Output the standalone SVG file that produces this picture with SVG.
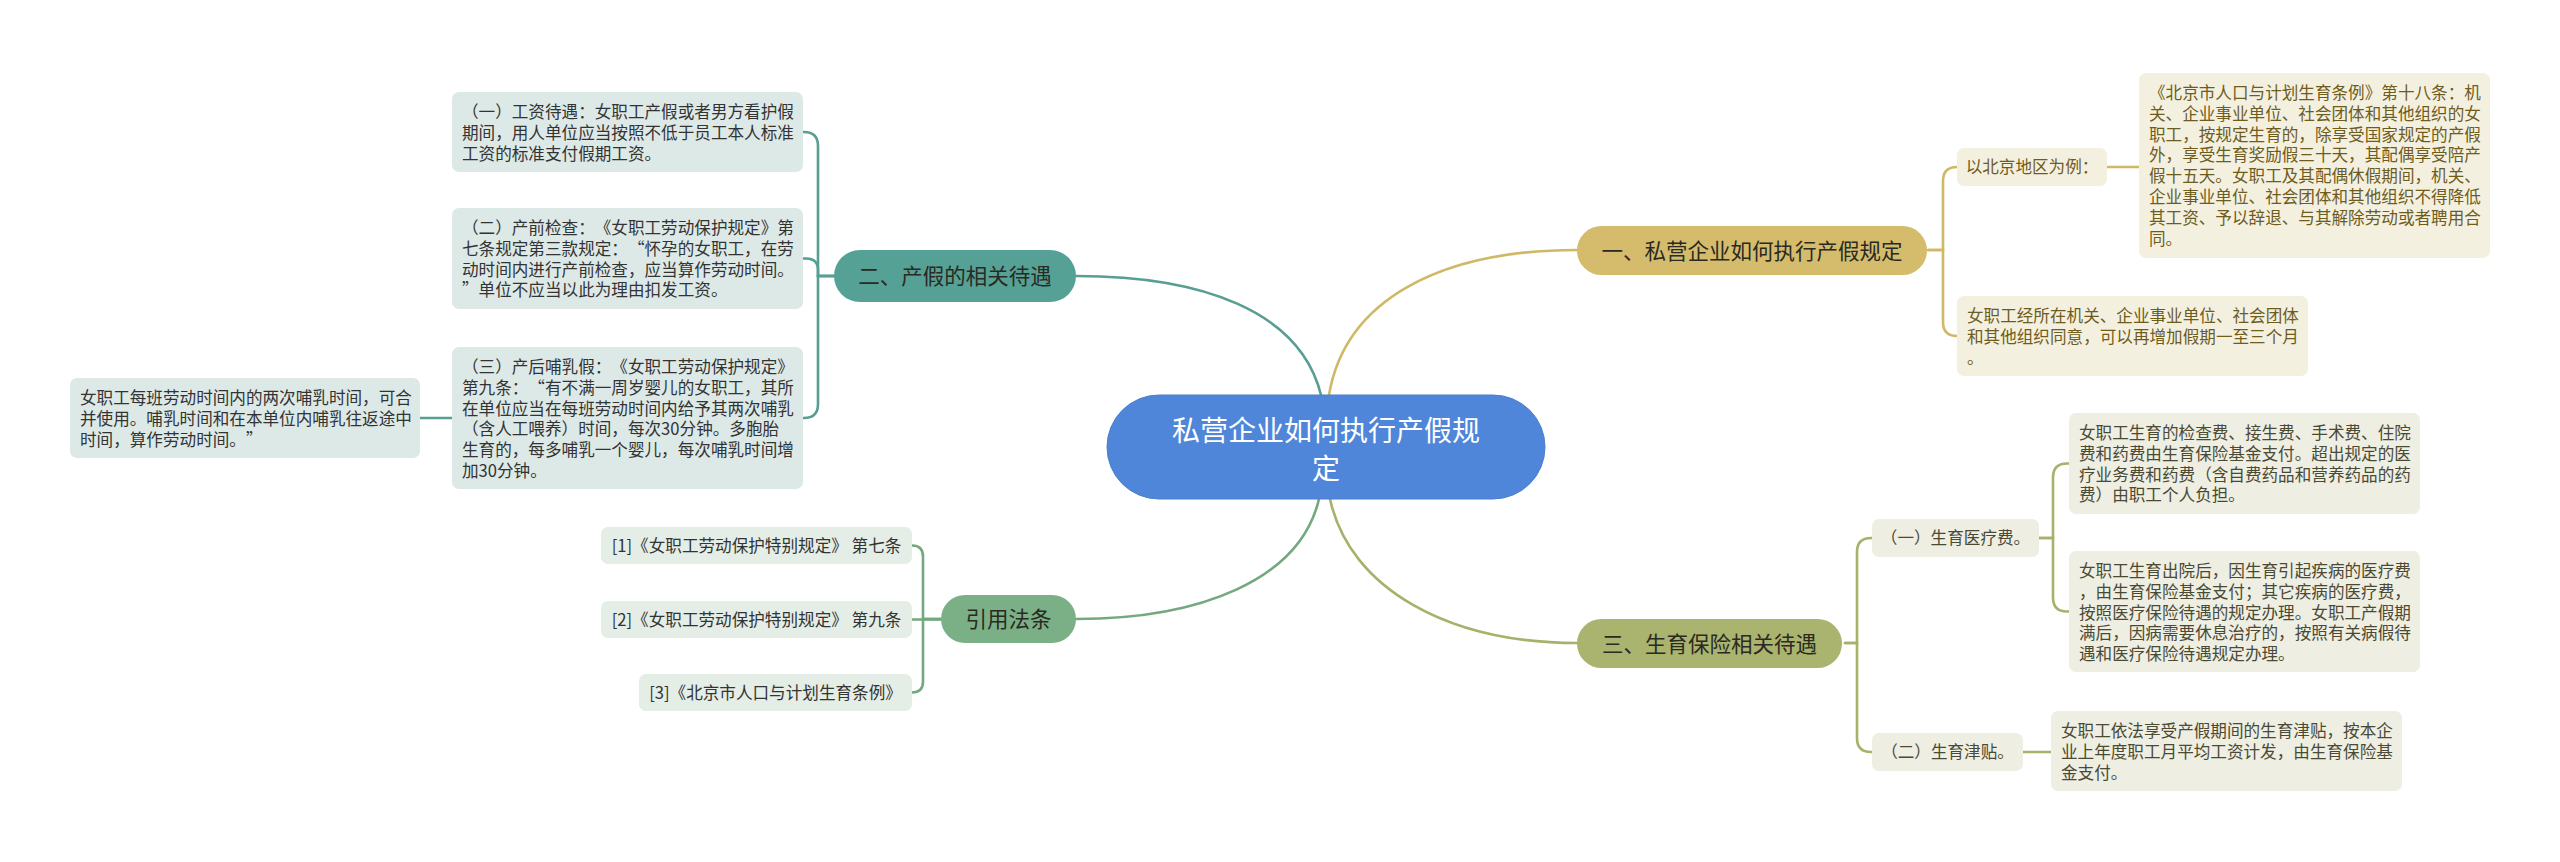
<svg xmlns="http://www.w3.org/2000/svg" width="2560" height="862" viewBox="0 0 2560 862">
<style>
text{font-family:"Noto Sans CJK SC","Noto Sans",sans-serif;text-spacing-trim:space-all;font-kerning:none;}
.leaf{font-size:16.6px;}
.br{font-size:21.5px;fill:#2a2a22;}
.c{fill:none;stroke-width:2.6;stroke-linecap:round;}
.teal{stroke:#589e93;}
.gold{stroke:#d0b866;}
.oliv{stroke:#a8b06a;}
.grn{stroke:#74a97f;}
.lt{fill:#dde9e7;}
.lg{fill:#e4ede6;}
.ly{fill:#f4f0e0;}
.lo{fill:#eeeee3;}
.tt{fill:#333333;}
.ty{fill:#6e5c1c;}
.to{fill:#4a4a34;}
</style>
<rect width="2560" height="862" fill="#ffffff"/>
<g id="connectors">
<path class="c gold" d="M1329,395 C1345,300 1440,250 1577,250" stroke-width="3"/>
<path class="c teal" d="M1321,395 C1300,310 1200,276 1076,276" stroke-width="3"/>
<path class="c grn" d="M1319,499 C1300,580 1200,619 1076,619" stroke-width="3"/>
<path class="c oliv" d="M1330,499 C1350,590 1450,643 1577,643" stroke-width="3"/>
<path class="c teal" d="M834,276 H818 V146 Q818,132 804,132 H803"/>
<path class="c teal" d="M834,276 H818 V270 Q818,258.5 806,258.5 H803"/>
<path class="c teal" d="M834,276 H818 V404 Q818,418 804,418 H803"/>
<path class="c teal" d="M452,418 H420"/>
<path class="c gold" d="M1928,250 H1943 V181 Q1943,167 1957,167"/>
<path class="c gold" d="M1928,250 H1943 V322 Q1943,336 1957,336"/>
<path class="c gold" d="M2107,167 H2139"/>
<path class="c oliv" d="M1845,643 H1857 V552 Q1857,538 1871,538 H1872"/>
<path class="c oliv" d="M1845,643 H1857 V738 Q1857,752 1871,752 H1872"/>
<path class="c oliv" d="M2039,538 H2053 V477.5 Q2053,463.5 2067,463.5 H2069"/>
<path class="c oliv" d="M2039,538 H2053 V597.5 Q2053,611.5 2067,611.5 H2069"/>
<path class="c oliv" d="M2023,752 H2051"/>
<path class="c grn" d="M941,619 H923 V556.5 Q923,545.5 912,545.5"/>
<path class="c grn" d="M941,619.5 H912"/>
<path class="c grn" d="M941,619 H923 V681.5 Q923,692.5 912,692.5"/>
</g>
<g id="root">
<rect x="1107" y="395" width="438" height="104" rx="52" fill="#4f86d9" stroke="#4a7fcc" stroke-width="1"/>
<text x="1326" y="441" font-size="28" fill="#ffffff" text-anchor="middle">私营企业如何执行产假规</text>
<text x="1326" y="479" font-size="28" fill="#ffffff" text-anchor="middle">定</text>
</g>
<g id="b1">
<rect x="1577" y="226" width="350" height="49" rx="24.5" fill="#d5bc6c"/>
<text class="br" x="1752" y="258.5" text-anchor="middle" fill="#3a3416">一、私营企业如何执行产假规定</text>
</g>
<g id="b2">
<rect x="834" y="250" width="242" height="52" rx="26" fill="#56a196"/>
<text class="br" x="955" y="284" text-anchor="middle">二、产假的相关待遇</text>
</g>
<g id="b3">
<rect x="1577" y="619" width="265" height="49" rx="24.5" fill="#aab46e"/>
<text class="br" x="1709.5" y="651.5" text-anchor="middle">三、生育保险相关待遇</text>
</g>
<g id="b4">
<rect x="941" y="595" width="135" height="48" rx="24" fill="#7bb087"/>
<text class="br" x="1008.5" y="627" text-anchor="middle">引用法条</text>
</g>
<g id="n-gongzi">
<rect class="lt" x="452" y="92" width="351" height="80" rx="7"/>
<text class="leaf tt" x="462" y="118"><tspan x="462">（一）工资待遇：女职工产假或者男方看护假</tspan><tspan x="462" dy="20.8">期间，用人单位应当按照不低于员工本人标准</tspan><tspan x="462" dy="20.8">工资的标准支付假期工资。</tspan></text>
</g>
<g id="n-chanqian">
<rect class="lt" x="452" y="208" width="351" height="101" rx="7"/>
<text class="leaf tt" x="462" y="234"><tspan x="462">（二）产前检查：《女职工劳动保护规定》第</tspan><tspan x="462" dy="20.8">七条规定第三款规定：“怀孕的女职工，在劳</tspan><tspan x="462" dy="20.8">动时间内进行产前检查，应当算作劳动时间。</tspan><tspan x="462" dy="20.8">”单位不应当以此为理由扣发工资。</tspan></text>
</g>
<g id="n-chanhou">
<rect class="lt" x="452" y="347" width="351" height="142" rx="7"/>
<text class="leaf tt" x="462" y="373"><tspan x="462">（三）产后哺乳假：《女职工劳动保护规定》</tspan><tspan x="462" dy="20.8">第九条：“有不满一周岁婴儿的女职工，其所</tspan><tspan x="462" dy="20.8">在单位应当在每班劳动时间内给予其两次哺乳</tspan><tspan x="462" dy="20.8">（含人工喂养）时间，每次30分钟。多胞胎</tspan><tspan x="462" dy="20.8">生育的，每多哺乳一个婴儿，每次哺乳时间增</tspan><tspan x="462" dy="20.8">加30分钟。</tspan></text>
</g>
<g id="n-buru">
<rect class="lt" x="70" y="378" width="350" height="80" rx="7"/>
<text class="leaf tt" x="80" y="404"><tspan x="80">女职工每班劳动时间内的两次哺乳时间，可合</tspan><tspan x="80" dy="20.8">并使用。哺乳时间和在本单位内哺乳往返途中</tspan><tspan x="80" dy="20.8">时间，算作劳动时间。”</tspan></text>
</g>
<g id="n-ref1">
<rect class="lg" x="601" y="527" width="311" height="37" rx="7"/>
<text class="leaf tt" x="756.5" y="551.5" text-anchor="middle">[1]《女职工劳动保护特别规定》 第七条</text>
</g>
<g id="n-ref2">
<rect class="lg" x="601" y="601" width="311" height="37" rx="7"/>
<text class="leaf tt" x="756.5" y="625.5" text-anchor="middle">[2]《女职工劳动保护特别规定》 第九条</text>
</g>
<g id="n-ref3">
<rect class="lg" x="639" y="674" width="273" height="37" rx="7"/>
<text class="leaf tt" x="775.5" y="698.5" text-anchor="middle">[3]《北京市人口与计划生育条例》</text>
</g>
<g id="n-beijing">
<rect class="ly" x="1957" y="148" width="150" height="38" rx="7"/>
<text class="leaf ty" x="2032" y="173" text-anchor="middle">以北京地区为例：</text>
</g>
<g id="n-tiaoli">
<rect class="ly" x="2139" y="73" width="351" height="185" rx="7"/>
<text class="leaf ty" x="2149" y="99"><tspan x="2149">《北京市人口与计划生育条例》第十八条：机</tspan><tspan x="2149" dy="20.8">关、企业事业单位、社会团体和其他组织的女</tspan><tspan x="2149" dy="20.8">职工，按规定生育的，除享受国家规定的产假</tspan><tspan x="2149" dy="20.8">外，享受生育奖励假三十天，其配偶享受陪产</tspan><tspan x="2149" dy="20.8">假十五天。女职工及其配偶休假期间，机关、</tspan><tspan x="2149" dy="20.8">企业事业单位、社会团体和其他组织不得降低</tspan><tspan x="2149" dy="20.8">其工资、予以辞退、与其解除劳动或者聘用合</tspan><tspan x="2149" dy="20.8">同。</tspan></text>
</g>
<g id="n-zengjia">
<rect class="ly" x="1957" y="296" width="351" height="80" rx="7"/>
<text class="leaf ty" x="1967" y="322"><tspan x="1967">女职工经所在机关、企业事业单位、社会团体</tspan><tspan x="1967" dy="20.8">和其他组织同意，可以再增加假期一至三个月</tspan><tspan x="1967" dy="20.8">。</tspan></text>
</g>
<g id="n-yiliao">
<rect class="lo" x="1872" y="519" width="167" height="38" rx="7"/>
<text class="leaf to" x="1955.5" y="544" text-anchor="middle">（一）生育医疗费。</text>
</g>
<g id="n-yiliao1">
<rect class="lo" x="2069" y="413" width="351" height="101" rx="7"/>
<text class="leaf to" x="2079" y="439"><tspan x="2079">女职工生育的检查费、接生费、手术费、住院</tspan><tspan x="2079" dy="20.8">费和药费由生育保险基金支付。超出规定的医</tspan><tspan x="2079" dy="20.8">疗业务费和药费（含自费药品和营养药品的药</tspan><tspan x="2079" dy="20.8">费）由职工个人负担。</tspan></text>
</g>
<g id="n-yiliao2">
<rect class="lo" x="2069" y="551" width="351" height="121" rx="7"/>
<text class="leaf to" x="2079" y="577"><tspan x="2079">女职工生育出院后，因生育引起疾病的医疗费</tspan><tspan x="2079" dy="20.8">，由生育保险基金支付；其它疾病的医疗费，</tspan><tspan x="2079" dy="20.8">按照医疗保险待遇的规定办理。女职工产假期</tspan><tspan x="2079" dy="20.8">满后，因病需要休息治疗的，按照有关病假待</tspan><tspan x="2079" dy="20.8">遇和医疗保险待遇规定办理。</tspan></text>
</g>
<g id="n-jintie">
<rect class="lo" x="1872" y="733" width="151" height="38" rx="7"/>
<text class="leaf to" x="1947.5" y="758" text-anchor="middle">（二）生育津贴。</text>
</g>
<g id="n-jintie1">
<rect class="lo" x="2051" y="711" width="351" height="80" rx="7"/>
<text class="leaf to" x="2061" y="737"><tspan x="2061">女职工依法享受产假期间的生育津贴，按本企</tspan><tspan x="2061" dy="20.8">业上年度职工月平均工资计发，由生育保险基</tspan><tspan x="2061" dy="20.8">金支付。</tspan></text>
</g>
</svg>
